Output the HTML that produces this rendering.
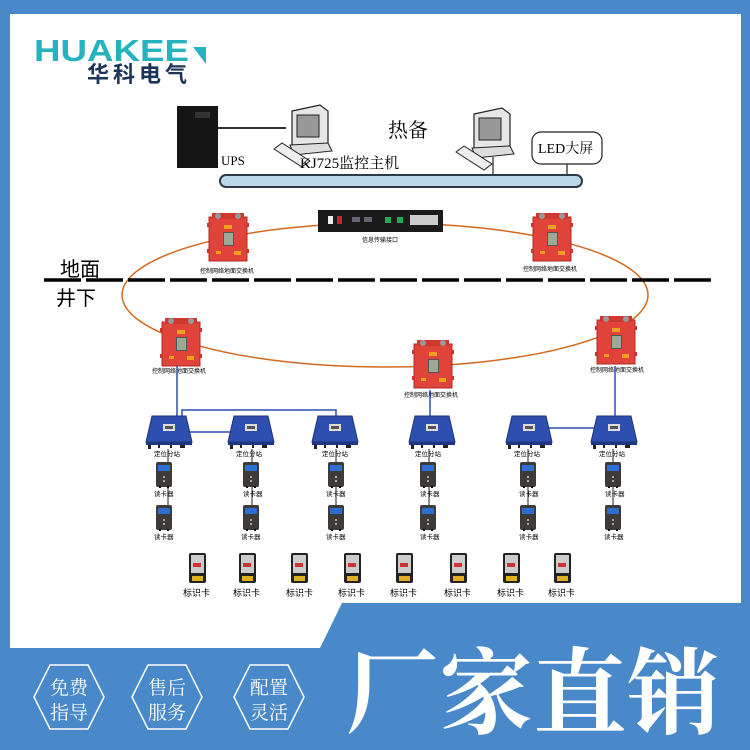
<!DOCTYPE html>
<html><head><meta charset="utf-8"><style>
html,body{margin:0;padding:0;}
body{width:750px;height:750px;overflow:hidden;background:#4a89c9;font-family:"Liberation Serif","Noto Serif CJK SC",serif;}
svg{display:block}
</style></head><body>
<svg width="750" height="750" viewBox="0 0 750 750" xmlns="http://www.w3.org/2000/svg">
<defs>
<g id="red">
 <rect x="0" y="4" width="38" height="44" fill="#e0433a" stroke="#b02a22" stroke-width="1"/>
 <rect x="3" y="0" width="32" height="6" fill="#d0382f"/>
 <circle cx="9" cy="3" r="3" fill="#999"/><circle cx="29" cy="3" r="3" fill="#999"/>
 <rect x="15" y="12" width="8" height="4" fill="#f0a020"/>
 <rect x="14" y="19" width="11" height="14" fill="#555"/><rect x="15" y="20" width="9" height="12" fill="#9a9"/>
 <rect x="7" y="38" width="5" height="3" fill="#f0a020"/><rect x="25" y="38" width="7" height="4" fill="#f0a020"/>
 <rect x="-2" y="10" width="2" height="4" fill="#c33"/><rect x="-2" y="36" width="2" height="4" fill="#c33"/>
 <rect x="38" y="10" width="2" height="4" fill="#c33"/><rect x="38" y="36" width="2" height="4" fill="#c33"/>
</g>
<g id="blue">
 <path d="M4 0 H38 L44 26 H-2 Z" fill="#2f4fb0" stroke="#1f3580" stroke-width="1"/>
 <rect x="-2" y="26" width="46" height="3" fill="#1f3580"/>
 <rect x="15" y="8" width="12" height="7" fill="#ddd"/><rect x="17" y="10" width="8" height="3" fill="#555"/>
 <rect x="0" y="29" width="3" height="4" fill="#222"/><rect x="10" y="29" width="2" height="3" fill="#222"/><rect x="22" y="29" width="2" height="3" fill="#222"/><rect x="32" y="29" width="5" height="3" fill="#222"/>
</g>
<g id="reader">
 <rect x="0" y="0" width="16" height="25" rx="2" fill="#3d3a38"/>
 <rect x="2" y="3" width="12" height="6" fill="#2d6fd0"/>
 <circle cx="8" cy="15" r="1" fill="#ccc"/><circle cx="8" cy="19" r="1" fill="#ccc"/>
 <rect x="3" y="24" width="2" height="2" fill="#111"/><rect x="11" y="24" width="2" height="2" fill="#111"/>
</g>
<g id="tag">
 <rect x="0" y="0" width="17" height="30" rx="2" fill="#222"/>
 <rect x="2" y="2" width="13" height="18" fill="#ccc"/>
 <rect x="4" y="10" width="8" height="4" fill="#c33"/>
 <rect x="3" y="23" width="11" height="5" fill="#e0b020"/>
</g>
<g id="pc">
 <path d="M12 6 L40 0 L48 6 V40 L20 44 L12 40 Z" fill="#e6e6e6" stroke="#222" stroke-width="1.2"/>
 <rect x="17" y="10" width="22" height="22" fill="#999" stroke="#222"/>
 <path d="M10 40 L48 38 L52 46 L14 50 Z" fill="#ddd" stroke="#222"/>
 <path d="M-6 44 L2 38 L30 56 L22 62 Z" fill="#eee" stroke="#222"/>
</g>
</defs>
<path d="M10 14 H741 V603 H342 L320 648 H10 Z" fill="#fff"/>
<text x="34" y="61" font-family="Liberation Sans,sans-serif" font-weight="bold" font-size="31" fill="#26b3bf" textLength="155" lengthAdjust="spacingAndGlyphs">HUAKEE</text>
<path d="M193 47 L206 47 L206 64 Z" fill="#26b3bf"/>
<text x="87" y="82" font-family="Liberation Sans,'Noto Sans CJK SC',sans-serif" font-weight="bold" font-size="22" fill="#1d3557" textLength="100">华科电气</text>
<rect x="177" y="106" width="41" height="62" fill="#151515"/>
<rect x="195" y="112" width="15" height="6" fill="#333"/>
<line x1="218" y1="128" x2="286" y2="128" stroke="#333" stroke-width="2"/>
<text x="221" y="165" font-size="13" fill="#000">UPS</text>
<use href="#pc" x="280" y="105"/>
<text x="300" y="168" font-size="15" fill="#000">KJ725监控主机</text>
<text x="388" y="137" font-size="20" fill="#000">热备</text>
<use href="#pc" x="462" y="108"/>
<rect x="532" y="132" width="70" height="32" rx="9" fill="#fff" stroke="#222" stroke-width="1.2"/>
<text x="538" y="153" font-size="14" fill="#000">LED大屏</text>
<line x1="493" y1="157" x2="493" y2="182" stroke="#222" stroke-width="1.2"/>
<line x1="567" y1="164" x2="567" y2="182" stroke="#222" stroke-width="1.2"/>
<rect x="220" y="175" width="362" height="12" rx="6" fill="#bcd6ea" stroke="#2a3a4a" stroke-width="2"/>
<ellipse cx="385" cy="295" rx="263" ry="72" fill="none" stroke="#d2691e" stroke-width="1.5"/>
<line x1="44" y1="280" x2="716" y2="280" stroke="#000" stroke-width="3.5" stroke-dasharray="37 5"/>
<text x="60" y="276" font-family="Liberation Sans,'Noto Sans CJK SC',sans-serif" font-size="20" fill="#000">地面</text>
<text x="56" y="305" font-family="Liberation Sans,'Noto Sans CJK SC',sans-serif" font-size="20" fill="#000">井下</text>
<rect x="318" y="210" width="125" height="22" fill="#1a1a1a"/>
<rect x="328" y="216" width="5" height="8" fill="#eee"/><rect x="337" y="216" width="5" height="8" fill="#c22"/>
<rect x="352" y="217" width="8" height="5" fill="#667"/><rect x="364" y="217" width="8" height="5" fill="#667"/>
<rect x="385" y="217" width="6" height="6" fill="#2a5"/><rect x="397" y="217" width="6" height="6" fill="#2a5"/>
<rect x="410" y="215" width="28" height="10" fill="#ccc"/>
<text x="362" y="242" font-size="6" font-family="Liberation Sans,'Noto Sans CJK SC',sans-serif" fill="#000">信息传输接口</text>
<use href="#red" x="209" y="213"/>
<text x="200" y="273" font-size="6" font-family="Liberation Sans,'Noto Sans CJK SC',sans-serif" fill="#000">控制网络地面交换机</text>
<use href="#red" x="533" y="213"/>
<text x="523" y="271" font-size="6" font-family="Liberation Sans,'Noto Sans CJK SC',sans-serif" fill="#000">控制网络地面交换机</text>
<use href="#red" x="162" y="318"/>
<text x="152" y="373" font-size="6" font-family="Liberation Sans,'Noto Sans CJK SC',sans-serif" fill="#000">控制网络地面交换机</text>
<use href="#red" x="414" y="340"/>
<text x="404" y="397" font-size="6" font-family="Liberation Sans,'Noto Sans CJK SC',sans-serif" fill="#000">控制网络地面交换机</text>
<use href="#red" x="597" y="316"/>
<text x="590" y="372" font-size="6" font-family="Liberation Sans,'Noto Sans CJK SC',sans-serif" fill="#000">控制网络地面交换机</text>
<g stroke="#2f4fb0" stroke-width="1.5" fill="none">
<line x1="177" y1="366" x2="177" y2="416"/>
<polyline points="182,416 182,410 336,410 336,416"/>
<line x1="190" y1="432" x2="231" y2="432"/>
<line x1="430" y1="390" x2="430" y2="416"/>
<line x1="615" y1="366" x2="615" y2="416"/>
<line x1="548" y1="428" x2="596" y2="428"/>
</g>
<g font-size="6.5" font-family="Liberation Sans,'Noto Sans CJK SC',sans-serif" fill="#000">
<g transform="translate(148,416)"><use href="#blue"/><text x="6" y="40">定位分站</text>
 <line x1="20" y1="33" x2="20" y2="95" stroke="#222"/><use href="#reader" x="8" y="46"/><text x="6" y="80">读卡器</text><use href="#reader" x="8" y="89"/><text x="6" y="123">读卡器</text></g>
<g transform="translate(230,416)"><use href="#blue"/><text x="6" y="40">定位分站</text>
 <line x1="22" y1="33" x2="22" y2="95" stroke="#222"/><use href="#reader" x="13" y="46"/><text x="13" y="80">读卡器</text><use href="#reader" x="13" y="89"/><text x="11" y="123">读卡器</text></g>
<g transform="translate(314,416)"><use href="#blue"/><text x="8" y="40">定位分站</text>
 <line x1="22" y1="33" x2="22" y2="95" stroke="#222"/><use href="#reader" x="14" y="46"/><text x="12" y="80">读卡器</text><use href="#reader" x="14" y="89"/><text x="12" y="123">读卡器</text></g>
<g transform="translate(411,416)"><use href="#blue"/><text x="4" y="40">定位分站</text>
 <line x1="18" y1="33" x2="18" y2="95" stroke="#222"/><use href="#reader" x="9" y="46"/><text x="9" y="80">读卡器</text><use href="#reader" x="9" y="89"/><text x="9" y="123">读卡器</text></g>
<g transform="translate(508,416)"><use href="#blue"/><text x="6" y="40">定位分站</text>
 <line x1="20" y1="33" x2="20" y2="95" stroke="#222"/><use href="#reader" x="12" y="46"/><text x="11" y="80">读卡器</text><use href="#reader" x="12" y="89"/><text x="11" y="123">读卡器</text></g>
<g transform="translate(593,416)"><use href="#blue"/><text x="6" y="40">定位分站</text>
 <line x1="20" y1="33" x2="20" y2="95" stroke="#222"/><use href="#reader" x="12" y="46"/><text x="12" y="80">读卡器</text><use href="#reader" x="12" y="89"/><text x="11" y="123">读卡器</text></g>
</g>
<g font-size="9" font-family="Liberation Sans,'Noto Sans CJK SC',sans-serif" fill="#000">
<use href="#tag" x="189" y="553"/><text x="183" y="596">标识卡</text>
<use href="#tag" x="239" y="553"/><text x="233" y="596">标识卡</text>
<use href="#tag" x="291" y="553"/><text x="286" y="596">标识卡</text>
<use href="#tag" x="344" y="553"/><text x="338" y="596">标识卡</text>
<use href="#tag" x="396" y="553"/><text x="390" y="596">标识卡</text>
<use href="#tag" x="450" y="553"/><text x="444" y="596">标识卡</text>
<use href="#tag" x="503" y="553"/><text x="497" y="596">标识卡</text>
<use href="#tag" x="554" y="553"/><text x="548" y="596">标识卡</text>
</g>
<g fill="none" stroke="#fff" stroke-width="1.5">
<path d="M50 665 H88 L104 697 L88 729 H50 L34 697 Z"/>
<path d="M148 665 H186 L202 697 L186 729 H148 L132 697 Z"/>
<path d="M250 665 H288 L304 697 L288 729 H250 L234 697 Z"/>
</g>
<g fill="#fff" font-size="19" font-family="Liberation Serif,'Noto Serif CJK SC',serif" text-anchor="middle">
<text x="69" y="694">免费</text><text x="69" y="719">指导</text>
<text x="167" y="694">售后</text><text x="167" y="719">服务</text>
<text x="269" y="694">配置</text><text x="269" y="719">灵活</text>
</g>
<text x="533" y="726" fill="#fff" font-size="94" font-weight="bold" font-family="Liberation Serif,'Noto Serif CJK SC',serif" text-anchor="middle" textLength="375" lengthAdjust="spacingAndGlyphs">厂家直销</text>
</svg>
</body></html>
